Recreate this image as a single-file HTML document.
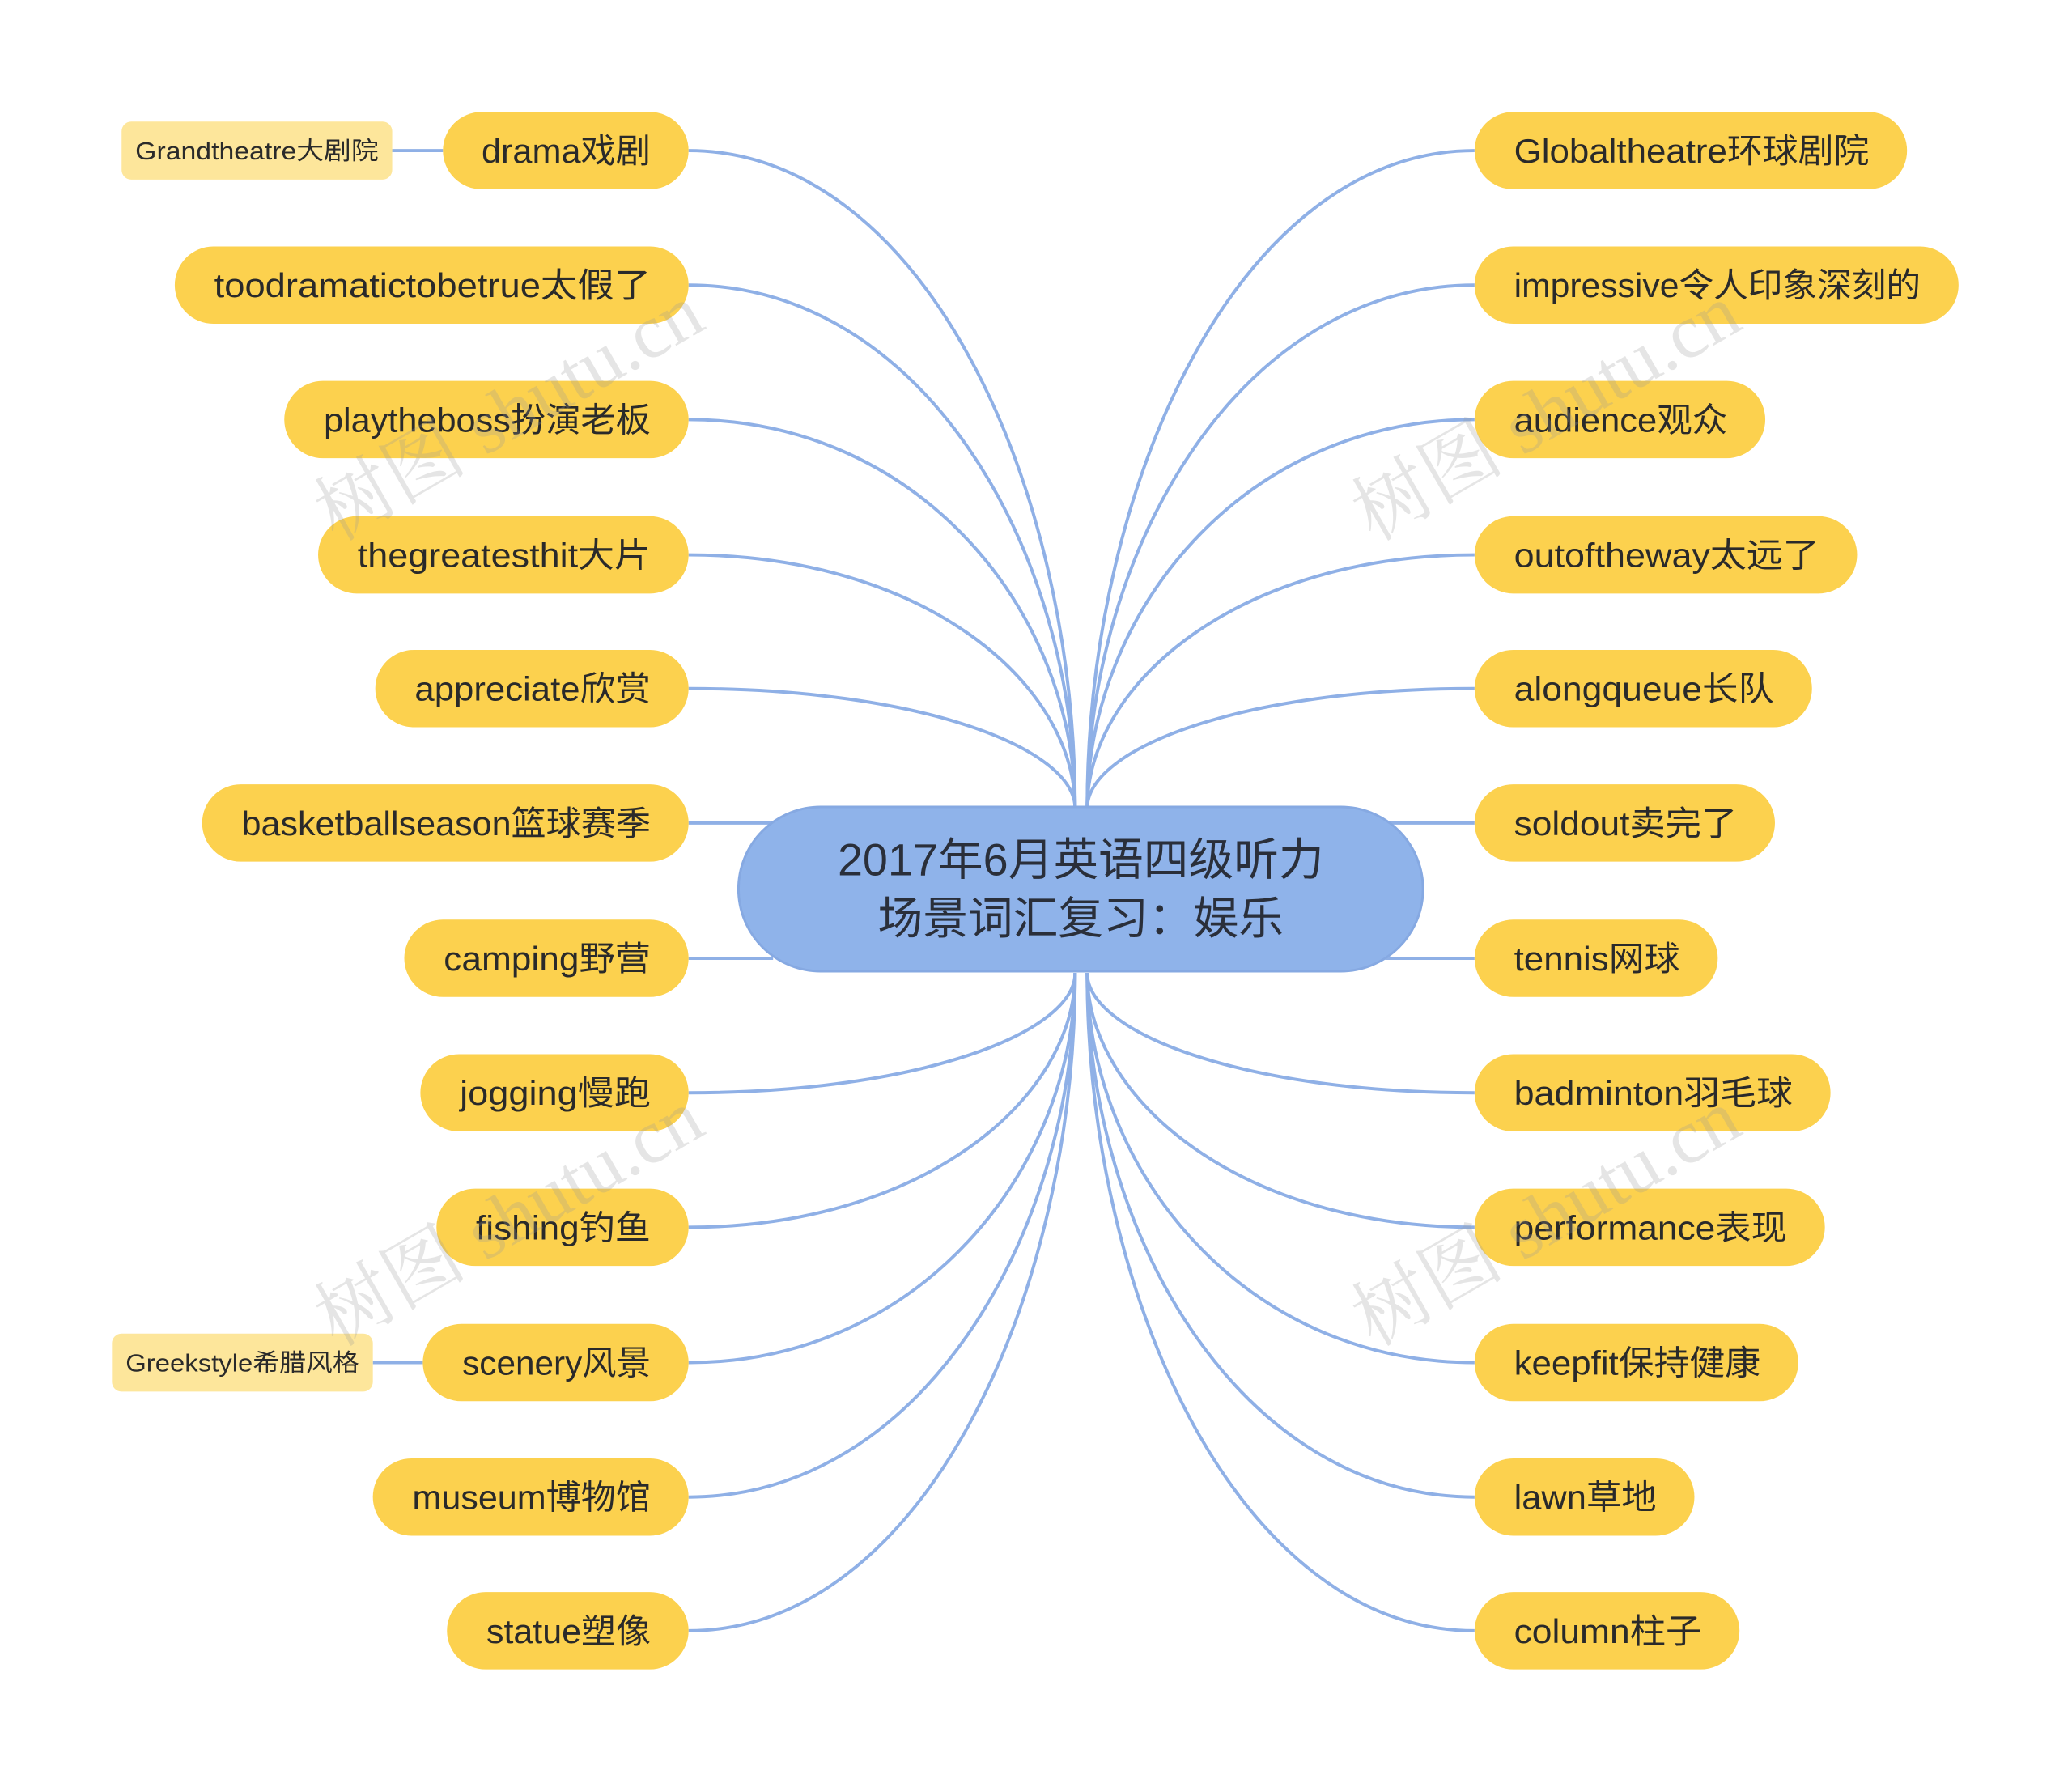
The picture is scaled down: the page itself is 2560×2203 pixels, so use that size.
<!DOCTYPE html>
<html><head><meta charset="utf-8"><style>
html,body{margin:0;padding:0;background:#fff;}
svg{display:block;}
.n{fill:#fcd14e;}
.t{font-family:"Liberation Sans","Noto Sans CJK SC",sans-serif;font-size:42px;fill:#2a2a2a;}
.s{font-family:"Liberation Sans","Noto Sans CJK SC",sans-serif;font-size:31px;fill:#2a2a2a;}
.c{fill:none;stroke:#8fb0e6;stroke-width:4;}
.w{font-family:"Liberation Serif","Noto Serif CJK SC",serif;font-size:95px;fill:#999;opacity:0.25;}
</style></head><body>
<svg width="2560" height="2203" viewBox="0 0 2560 2203" xmlns="http://www.w3.org/2000/svg">
<g transform="scale(0.995)">
<g class="c">
<path d="M855 187 C1143 187 1335 595 1335 1004"/>
<path d="M855 354 C1143 354 1335 679 1335 1004"/>
<path d="M855 521 C1143 521 1335 762 1335 1004"/>
<path d="M855 689 C1143 689 1335 846 1335 1004"/>
<path d="M855 855 C1143 855 1335 929 1335 1004"/>
<path d="M855 1022 L960 1022"/>
<path d="M855 1190 L960 1190"/>
<path d="M855 1357 C1143 1357 1335 1282 1335 1208"/>
<path d="M855 1524 C1143 1524 1335 1366 1335 1208"/>
<path d="M855 1692 C1143 1692 1335 1450 1335 1208"/>
<path d="M855 1859 C1143 1859 1335 1533 1335 1208"/>
<path d="M855 2025 C1143 2025 1335 1616 1335 1208"/>
<path d="M1831 187 C1542 187 1350 595 1350 1004"/>
<path d="M1831 354 C1542 354 1350 679 1350 1004"/>
<path d="M1831 521 C1542 521 1350 762 1350 1004"/>
<path d="M1831 689 C1542 689 1350 846 1350 1004"/>
<path d="M1831 855 C1542 855 1350 929 1350 1004"/>
<path d="M1831 1022 L1720 1022"/>
<path d="M1831 1190 L1720 1190"/>
<path d="M1831 1357 C1542 1357 1350 1282 1350 1208"/>
<path d="M1831 1524 C1542 1524 1350 1366 1350 1208"/>
<path d="M1831 1692 C1542 1692 1350 1450 1350 1208"/>
<path d="M1831 1859 C1542 1859 1350 1533 1350 1208"/>
<path d="M1831 2025 C1542 2025 1350 1616 1350 1208"/>
<path d="M487 187 L550 187"/>
<path d="M463 1692 L525 1692"/>
</g>
<rect x="917" y="1002" width="850" height="204" rx="102" fill="#8fb3ea" stroke="#86a9e2" stroke-width="3"/>
<text x="1342" y="1087" text-anchor="middle" font-family="Liberation Sans,Noto Sans CJK SC,sans-serif" font-size="56" fill="#2a2f3a">2017年6月英语四级听力</text>
<text x="1342" y="1160" text-anchor="middle" font-family="Liberation Sans,Noto Sans CJK SC,sans-serif" font-size="56" fill="#2a2f3a">场景词汇复习：娱乐</text>

<rect x="151" y="151" width="336" height="72" rx="12" fill="#fde69b"/>
<text class="s" x="168" y="198" textLength="302" lengthAdjust="spacingAndGlyphs">Grandtheatre大剧院</text>
<rect x="139" y="1656" width="324" height="72" rx="12" fill="#fde69b"/>
<text class="s" x="156" y="1703" textLength="290" lengthAdjust="spacingAndGlyphs">Greekstyle希腊风格</text>

<g>
<rect class="n" x="550" y="139" width="305" height="96" rx="48"/><text class="t" x="598" y="202" textLength="210" lengthAdjust="spacingAndGlyphs">drama戏剧</text>
<rect class="n" x="217" y="306" width="638" height="96" rx="48"/><text class="t" x="266" y="369" textLength="542" lengthAdjust="spacingAndGlyphs">toodramatictobetrue太假了</text>
<rect class="n" x="353" y="473" width="502" height="96" rx="48"/><text class="t" x="402" y="536" textLength="406" lengthAdjust="spacingAndGlyphs">playtheboss扮演老板</text>
<rect class="n" x="395" y="641" width="460" height="96" rx="48"/><text class="t" x="444" y="704" textLength="364" lengthAdjust="spacingAndGlyphs">thegreatesthit大片</text>
<rect class="n" x="466" y="807" width="389" height="96" rx="48"/><text class="t" x="515" y="870" textLength="293" lengthAdjust="spacingAndGlyphs">appreciate欣赏</text>
<rect class="n" x="251" y="974" width="604" height="96" rx="48"/><text class="t" x="300" y="1037" textLength="508" lengthAdjust="spacingAndGlyphs">basketballseason篮球赛季</text>
<rect class="n" x="502" y="1142" width="353" height="96" rx="48"/><text class="t" x="551" y="1205" textLength="257" lengthAdjust="spacingAndGlyphs">camping野营</text>
<rect class="n" x="522" y="1309" width="333" height="96" rx="48"/><text class="t" x="571" y="1372" textLength="237" lengthAdjust="spacingAndGlyphs">jogging慢跑</text>
<rect class="n" x="542" y="1476" width="313" height="96" rx="48"/><text class="t" x="591" y="1539" textLength="217" lengthAdjust="spacingAndGlyphs">fishing钓鱼</text>
<rect class="n" x="525" y="1644" width="330" height="96" rx="48"/><text class="t" x="574" y="1707" textLength="234" lengthAdjust="spacingAndGlyphs">scenery风景</text>
<rect class="n" x="463" y="1811" width="392" height="96" rx="48"/><text class="t" x="512" y="1874" textLength="296" lengthAdjust="spacingAndGlyphs">museum博物馆</text>
<rect class="n" x="555" y="1977" width="300" height="96" rx="48"/><text class="t" x="604" y="2040" textLength="204" lengthAdjust="spacingAndGlyphs">statue塑像</text>

<rect class="n" x="1831" y="139" width="537" height="96" rx="48"/><text class="t" x="1880" y="202" textLength="441" lengthAdjust="spacingAndGlyphs">Globaltheatre环球剧院</text>
<rect class="n" x="1831" y="306" width="601" height="96" rx="48"/><text class="t" x="1880" y="369" textLength="505" lengthAdjust="spacingAndGlyphs">impressive令人印象深刻的</text>
<rect class="n" x="1831" y="473" width="361" height="96" rx="48"/><text class="t" x="1880" y="536" textLength="265" lengthAdjust="spacingAndGlyphs">audience观众</text>
<rect class="n" x="1831" y="641" width="475" height="96" rx="48"/><text class="t" x="1880" y="704" textLength="379" lengthAdjust="spacingAndGlyphs">outoftheway太远了</text>
<rect class="n" x="1831" y="807" width="419" height="96" rx="48"/><text class="t" x="1880" y="870" textLength="323" lengthAdjust="spacingAndGlyphs">alongqueue长队</text>
<rect class="n" x="1831" y="974" width="373" height="96" rx="48"/><text class="t" x="1880" y="1037" textLength="277" lengthAdjust="spacingAndGlyphs">soldout卖完了</text>
<rect class="n" x="1831" y="1142" width="302" height="96" rx="48"/><text class="t" x="1880" y="1205" textLength="206" lengthAdjust="spacingAndGlyphs">tennis网球</text>
<rect class="n" x="1831" y="1309" width="442" height="96" rx="48"/><text class="t" x="1880" y="1372" textLength="346" lengthAdjust="spacingAndGlyphs">badminton羽毛球</text>
<rect class="n" x="1831" y="1476" width="435" height="96" rx="48"/><text class="t" x="1880" y="1539" textLength="339" lengthAdjust="spacingAndGlyphs">performance表现</text>
<rect class="n" x="1831" y="1644" width="402" height="96" rx="48"/><text class="t" x="1880" y="1707" textLength="306" lengthAdjust="spacingAndGlyphs">keepfit保持健康</text>
<rect class="n" x="1831" y="1811" width="273" height="96" rx="48"/><text class="t" x="1880" y="1874" textLength="177" lengthAdjust="spacingAndGlyphs">lawn草地</text>
<rect class="n" x="1831" y="1977" width="329" height="96" rx="48"/><text class="t" x="1880" y="2040" textLength="233" lengthAdjust="spacingAndGlyphs">column柱子</text>
</g>

<text class="w" transform="translate(648 540) rotate(-30)" text-anchor="middle">树图 shutu.cn</text>
<text class="w" transform="translate(648 1540) rotate(-30)" text-anchor="middle">树图 shutu.cn</text>
<text class="w" transform="translate(1936 540) rotate(-30)" text-anchor="middle">树图 shutu.cn</text>
<text class="w" transform="translate(1936 1540) rotate(-30)" text-anchor="middle">树图 shutu.cn</text>
</g>
</svg>
</body></html>
